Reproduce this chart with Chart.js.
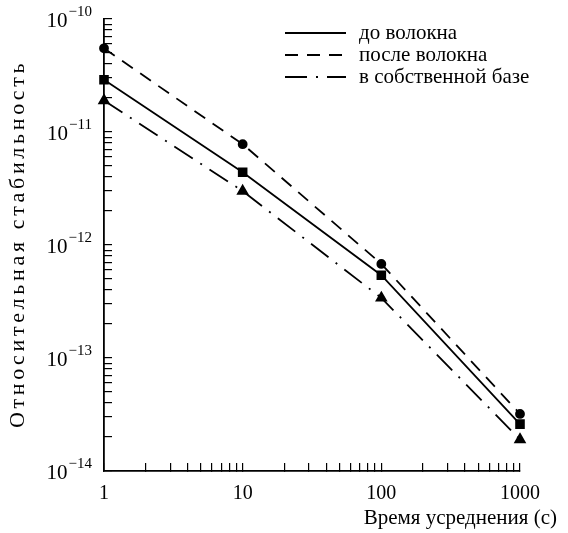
<!DOCTYPE html>
<html>
<head>
<meta charset="utf-8">
<script src="https://cdn.jsdelivr.net/npm/chart.js@4.4.1/dist/chart.umd.min.js"></script>
<style>
  html, body { margin: 0; padding: 0; background: #fff; }
  #wrap { width: 568px; height: 533px; }
</style>
</head>
<body>
<div id="wrap"><canvas id="chart"></canvas></div>
<script>
// Daten: Mittelungszeit (s) und relative Stabilität der drei Messungen
let tau = [1, 10, 100, 1000];
let doVolokna = [2.9e-11, 4.4e-12, 5.4e-13, 2.6e-14];      // до волокна
let posleVolokna = [5.5e-11, 7.8e-12, 6.8e-13, 3.2e-14];   // после волокна
let sobstvBaza = [1.9e-11, 3.0e-12, 3.4e-13, 1.9e-14];     // в собственной базе

let seriesLabels = ['до волокна', 'после волокна', 'в собственной базе'];
let xTickLabels = ['1', '10', '100', '1000'];
let yTickExponents = [-10, -11, -12, -13, -14];
let xTitle = 'Время усреднения (с)';
let yTitle = 'Относительная стабильность';

const serif = "'Liberation Serif', 'DejaVu Serif', serif";

// Punkte {x, y} bauen
function toPoints(values) {
  return tau.map((t, i) => ({ x: t, y: values[i] }));
}

// Log-Ticks 1..9 pro Dekade
function logTicks(fromExp, toExp) {
  let ticks = [];
  for (let e = fromExp; e < toExp; e++) {
    for (let m = 1; m <= 9; m++) {
      ticks.push({ value: m * Math.pow(10, e) });
    }
  }
  ticks.push({ value: Math.pow(10, toExp) });
  return ticks;
}

// Text mit Sperrung zeichnen (Buchstabe für Buchstabe)
function spacedText(ctx, text, x, y, spacing) {
  for (let ch of text) {
    ctx.fillText(ch, x, y);
    x += ctx.measureText(ch).width + spacing;
  }
}

// Achsenbeschriftungen, Titel und Legende
const labelPlugin = {
  id: 'labelPlugin',
  afterDraw(chart) {
    const ctx = chart.ctx;
    const xs = chart.scales.x;
    const ys = chart.scales.y;
    ctx.save();
    ctx.fillStyle = '#000';

    // y: 10^-n
    yTickExponents.forEach(e => {
      let py = ys.getPixelForValue(Math.pow(10, e));
      let sup = '\u2212' + Math.abs(e);
      ctx.font = '15px ' + serif;
      ctx.textAlign = 'right';
      ctx.textBaseline = 'alphabetic';
      let supW = ctx.measureText(sup).width;
      ctx.fillText(sup, 92, py - 3);
      ctx.font = '21px ' + serif;
      ctx.textBaseline = 'middle';
      ctx.fillText('10', 92 - supW - 1, py + 2);
    });

    // x: 1, 10, 100, 1000
    ctx.font = '20px ' + serif;
    ctx.textAlign = 'center';
    ctx.textBaseline = 'middle';
    tau.forEach((t, i) => {
      ctx.fillText(xTickLabels[i], xs.getPixelForValue(t), 494);
    });

    // x-Titel rechtsbündig
    ctx.font = '21px ' + serif;
    ctx.textAlign = 'right';
    ctx.fillText(xTitle, 557, 518);

    // y-Titel gedreht und leicht gesperrt
    ctx.save();
    ctx.font = '22px ' + serif;
    ctx.translate(18, (ys.top + ys.bottom) / 2);
    ctx.rotate(-Math.PI / 2);
    ctx.textAlign = 'left';
    let plain = ctx.measureText(yTitle).width;
    let chars = [...yTitle].length;
    let spacing = (366 - plain) / (chars - 1);
    spacedText(ctx, yTitle, -183, 0, spacing);
    ctx.restore();

    // Legende
    chart.data.datasets.forEach((ds, i) => {
      let ly = 33 + i * 22;
      ctx.beginPath();
      ctx.setLineDash(ds.borderDash || []);
      ctx.lineWidth = ds.borderWidth;
      ctx.strokeStyle = ds.borderColor;
      ctx.moveTo(285, ly);
      ctx.lineTo(346, ly);
      ctx.stroke();
      ctx.setLineDash([]);
      ctx.font = '21px ' + serif;
      ctx.textAlign = 'left';
      ctx.textBaseline = 'middle';
      ctx.fillText(ds.label, 359, ly);
    });
    ctx.restore();
  }
};

const config = {
  type: 'line',
  data: {
    datasets: [
      {
        label: seriesLabels[0],
        data: toPoints(doVolokna),
        borderColor: '#000',
        backgroundColor: '#000',
        borderWidth: 1.8,
        borderDash: [],
        pointStyle: 'rect',
        pointRadius: 5.5,
        clip: false
      },
      {
        label: seriesLabels[1],
        data: toPoints(posleVolokna),
        borderColor: '#000',
        backgroundColor: '#000',
        borderWidth: 1.8,
        borderDash: [13, 9],
        pointStyle: 'circle',
        pointRadius: 4,
        clip: false
      },
      {
        label: seriesLabels[2],
        data: toPoints(sobstvBaza),
        borderColor: '#000',
        backgroundColor: '#000',
        borderWidth: 1.8,
        borderDash: [22, 9, 2, 9],
        pointStyle: 'triangle',
        pointRadius: 5.5,
        clip: false
      }
    ]
  },
  options: {
    responsive: true,
    maintainAspectRatio: false,
    animation: false,
    layout: { padding: { top: 19, right: 48, left: 0, bottom: 0 } },
    plugins: {
      legend: { display: false },
      tooltip: { enabled: false }
    },
    scales: {
      x: {
        type: 'logarithmic',
        min: 1,
        max: 1000,
        afterBuildTicks: scale => { scale.ticks = logTicks(0, 3); },
        afterFit: scale => { scale.height = 62; },
        ticks: { display: false },
        grid: { drawOnChartArea: false, tickLength: -8, color: '#000', lineWidth: 1.2 },
        border: { display: true, color: '#000', width: 1.8 },
        title: { display: false }
      },
      y: {
        type: 'logarithmic',
        min: 1e-14,
        max: 1e-10,
        afterBuildTicks: scale => { scale.ticks = logTicks(-14, -10); },
        afterFit: scale => { scale.width = 104; },
        ticks: { display: false },
        grid: { drawOnChartArea: false, tickLength: -8, color: '#000', lineWidth: 1.2 },
        border: { display: true, color: '#000', width: 1.8 },
        title: { display: false }
      }
    }
  },
  plugins: [labelPlugin]
};

new Chart(document.getElementById('chart'), config);
</script>
</body>
</html>
